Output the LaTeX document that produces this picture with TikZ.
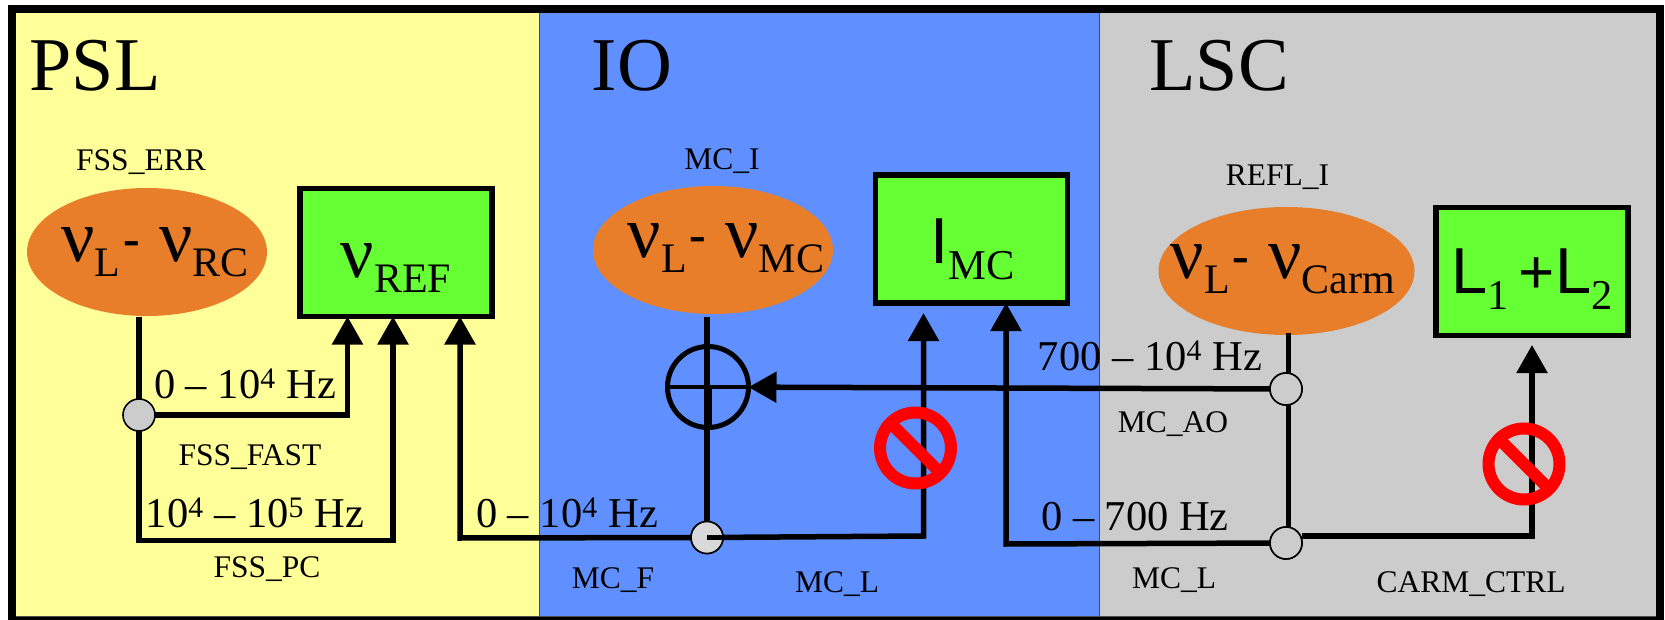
\documentclass[tikz,border=0pt]{standalone}
\usepackage{fontspec}
\setmainfont{Liberation Serif}
\setsansfont{Liberation Sans}
\usetikzlibrary{arrows.meta,shapes.geometric}
\definecolor{pslyellow}{HTML}{FFFF99}
\definecolor{ioblue}{HTML}{6090FF}
\definecolor{lscgray}{HTML}{CCCCCC}
\definecolor{boxgreen}{HTML}{66FF33}
\definecolor{ellorange}{HTML}{E87E2A}
\newcommand{\nusub}[1]{{\fontsize{74}{74}\selectfont ν}\raisebox{-15pt}{\fontsize{42}{42}\selectfont #1}}
\newcommand{\dashmark}{\hspace{3pt}\raisebox{6pt}{\fontsize{50}{50}\selectfont\bfseries -}\hspace{19pt}}
\newcommand{\sansub}[2]{{\sffamily\fontsize{65}{65}\selectfont #1}\raisebox{-16pt}{\fontsize{42.5}{42.5}\selectfont #2}}
\newcommand{\rangetxt}[1]{{\fontsize{42.5}{42.5}\selectfont #1}}
% text that leaves the size of its node alone: x offset, y offset, text
\newcommand{\placed}[3]{\raisebox{#2}[0pt][0pt]{\makebox[0pt]{\hspace*{#1}#3}}}
\begin{document}
\begin{tikzpicture}[
  x=1pt, y=-1pt,
  >={Triangle[length=28pt, width=30pt]},
  every node/.style={inner sep=0pt, outer sep=0pt, align=center},
  panel/.style={draw=black!70, line width=1pt, minimum height=606pt, anchor=north west},
  ell/.style={ellipse, fill=ellorange, minimum width=240pt, minimum height=128pt},
  ctrl/.style={rectangle, draw=black, line width=5.5pt, fill=boxgreen, minimum width=192pt, minimum height=128pt},
  junc/.style={circle, draw=black, line width=1.6pt, fill=lscgray, minimum size=32pt},
  sumnode/.style={circle, draw=black, line width=5pt, minimum size=81pt},
  noentry/.style={circle, draw=red, line width=12pt, minimum size=71pt,
    path picture={\draw[red, line width=12pt] (path picture bounding box.north west)--(path picture bounding box.south east);}},
  sig/.style={anchor=base, font=\fontsize{31.5}{31.5}\selectfont},
  bandtxt/.style={anchor=base},
  title/.style={anchor=base, font=\fontsize{76}{76}\selectfont},
  wire/.style={line width=5.5pt},
  arrow/.style={->, line width=5.5pt}
]
\useasboundingbox (0,0) rectangle (1665,620);

% panels
\node[panel, fill=pslyellow, minimum width=525pt] (psl) at (14.5,10) {};
\node[panel, fill=ioblue, minimum width=560pt] (io) at (539.5,10) {};
\node[panel, fill=lscgray, minimum width=559pt] (lsc) at (1099.5,10) {};
\draw[line width=8pt] (11.5,9) rectangle (1660,621);

\node[title] (tpsl) at (95,91) {PSL};
\node[title] (tio) at (632,91) {IO};
\node[title] (tlsc) at (1219,91) {LSC};

% error points and actuators
\node[ell] (errpsl) at (147,252) {\placed{16pt}{-10pt}{\nusub{L}\dashmark\nusub{RC}}};
\node[ctrl] (ref) at (396,252.5) {\placed{0pt}{-25.5pt}{\nusub{REF}}};
\node[ell] (errio) at (713,250) {\placed{26pt}{-8pt}{\nusub{L}\dashmark\nusub{MC}}};
\node[ctrl] (imc) at (971.5,239) {\placed{3pt}{-25pt}{\sansub{I}{MC}}};
\node[ell, minimum width=256pt] (errlsc) at (1286.5,271) {\placed{-7pt}{-8pt}{\nusub{L}\dashmark\nusub{Carm}}};
\node[ctrl] (carm) at (1532,271.5) {\placed{0pt}{-22.5pt}{\sansub{L}{1}\hspace{10pt}{\sffamily\fontsize{62}{62}\selectfont +}\hspace{1pt}\sansub{L}{2}}};

\node[junc] (jfast) at (139,415) {};
\node[junc, fill=black!15] (jmcf) at (707,537.5) {};
\node[junc] (jao) at (1286,389) {};
\node[junc] (jcarm) at (1286,543) {};
\node[sumnode] (sum) at (708,387) {};

\coordinate (cfast) at (347.5,415);
\coordinate (cpcl) at (139,540.5);
\coordinate (cpcr) at (393,540.5);
\coordinate (cfeed) at (460,538);
\coordinate (cmcl) at (923.5,536);
\coordinate (cao) at (1006,544);
\coordinate (cctrl) at (1532,536);
\coordinate (cstart) at (1302,536);

% connectors
\draw[wire] (139,317)--(jfast);
\draw[arrow] (jfast)--(cfast)--(cfast |- ref.south);
\draw[arrow] (jfast)--(cpcl)--(cpcr)--(cpcr |- ref.south);
\draw[arrow] (jmcf)--(cfeed)--(cfeed |- ref.south);
\draw[wire] (707,317)--(jmcf);
\draw[line width=8pt] (sum.center)--(sum.south);
\draw[wire, line width=4pt] (sum.west)--(sum.east);
\draw[arrow] (jmcf.center)--(cmcl)--(923.5,313);
\draw[arrow] (jao)--(sum);
\draw[arrow] (jcarm)--(cao)--(cao |- imc.south);
\draw[wire] (1288.5,333)--(1288.5,389);
\draw[wire] (1288.5,389)--(1288.5,543);
\draw[arrow] (cstart)--(cctrl)--(1532,345);
\node[junc, fill=black!15] at (jmcf) {};
\draw[wire] (jmcf.center)--(jmcf.east);
\node[junc] at (jao) {};
\node[junc] at (jcarm) {};

\node[noentry] (stop1) at (915.5,448) {};
\node[noentry] (stop2) at (1524,464) {};

% frequency bands
\node[bandtxt] (bfast) at (245,398) {\rangetxt{0 – 10\textsuperscript{4} Hz}};
\node[bandtxt] (bpc) at (255,527) {\rangetxt{10\textsuperscript{4} – 10\textsuperscript{5} Hz}};
\node[bandtxt] (bfeed) at (567,527) {\rangetxt{0 – 10\textsuperscript{4} Hz}};
\node[bandtxt] (bao) at (1150,370) {\rangetxt{700 – 10\textsuperscript{4} Hz}};
\node[bandtxt] (bmcl) at (1135,530) {\rangetxt{0 – 700 Hz}};

% signal names
\node[sig] (sfsserr) at (141,171) {FSS\_ERR};
\node[sig] (sfssfast) at (250,465) {FSS\_FAST};
\node[sig] (sfsspc) at (267,577) {FSS\_PC};
\node[sig] (smci) at (722,170) {MC\_I};
\node[sig] (smcf) at (613,588) {MC\_F};
\node[sig] (smcl) at (837,592) {MC\_L};
\node[sig] (srefl) at (1277.5,186) {REFL\_I};
\node[sig] (smcao) at (1173,432) {MC\_AO};
\node[sig] (smcl2) at (1174,588) {MC\_L};
\node[sig] (scarm) at (1471,592) {CARM\_CTRL};
\end{tikzpicture}
\end{document}
